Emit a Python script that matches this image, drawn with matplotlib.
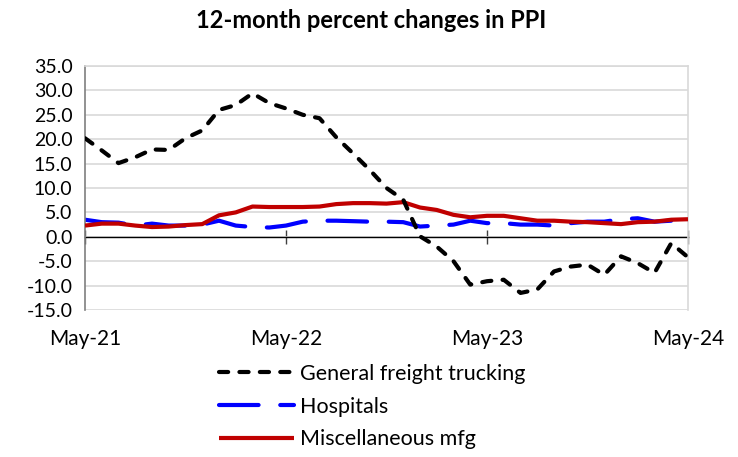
import matplotlib
matplotlib.use("Agg")
import matplotlib.pyplot as plt
import numpy as np

plt.rcParams['font.family'] = ['Lato', 'DejaVu Sans']

months = list(range(37))
tick_positions = [0, 12, 24, 36]
tick_labels = ["May-21", "May-22", "May-23", "May-24"]

freight = [20.2, 17.7, 15.1, 16.3, 17.9, 17.8, 20.2, 21.8, 26.0, 27.0, 29.4, 27.4,
           26.3, 25.0, 24.3, 20.4, 17.1, 13.7, 10.0, 7.6, 0.1, -2.0, -5.0, -9.8,
           -9.1, -8.8, -11.5, -10.8, -7.1, -6.1, -5.7, -7.8, -4.0, -5.4, -7.4, -1.3, -4.2]
hospitals = [3.5, 3.0, 2.9, 2.3, 2.7, 2.3, 2.3, 2.5, 3.3, 2.3, 2.0, 1.9,
             2.3, 3.1, 3.3, 3.3, 3.2, 3.1, 3.1, 3.0, 2.1, 2.3, 2.5, 3.3,
             2.8, 2.8, 2.5, 2.5, 2.3, 2.8, 3.1, 3.1, 3.6, 3.8, 3.1, 3.3, 4.5]
misc_mfg = [2.3, 2.7, 2.7, 2.3, 2.0, 2.1, 2.4, 2.6, 4.4, 5.0, 6.2, 6.1,
            6.1, 6.1, 6.2, 6.7, 6.9, 6.9, 6.8, 7.1, 6.0, 5.5, 4.5, 4.0,
            4.3, 4.3, 3.8, 3.3, 3.3, 3.1, 3.0, 2.8, 2.6, 3.0, 3.1, 3.5, 3.6]
y_ticks = [-15, -10, -5, 0, 5, 10, 15, 20, 25, 30, 35]

fig = plt.figure(figsize=(7.38, 4.57), dpi=100)
ax = fig.add_axes([85/738, 1-310/457, (688-85)/738, (310-66)/457])

lw = 3.0
l1, = ax.plot(months, freight, color='black', lw=lw, dashes=(2.2, 2.7),
              dash_capstyle='round', solid_capstyle='round', zorder=4,
              label='General freight trucking')
l2, = ax.plot(months, hospitals, color='#0000FF', lw=lw, dashes=(9.5, 5.2),
              dash_capstyle='round', zorder=2, label='Hospitals')
l3, = ax.plot(months, misc_mfg, color='#C00000', lw=lw, zorder=3,
              solid_capstyle='butt', label='Miscellaneous mfg')

ax.set_xlim(0, 36)
ax.set_ylim(-15, 35)
ax.set_yticks(y_ticks)
ax.set_yticklabels([f"{v:.1f}" for v in y_ticks], fontsize=14)
ax.yaxis.grid(True, color='#D9D9D9', lw=1.2)
ax.set_axisbelow(True)
ax.tick_params(axis='y', length=0, pad=9)

for s in ['top', 'right']:
    ax.spines[s].set_color('#D9D9D9')
    ax.spines[s].set_linewidth(1.2)
ax.spines['left'].set_color('#7F7F7F')
ax.spines['left'].set_linewidth(1.2)
ax.spines['bottom'].set_position(('data', 0))
ax.spines['bottom'].set_color('black')
ax.spines['bottom'].set_linewidth(1.0)
ax.spines['bottom'].set_zorder(1)
ax.set_xticks(tick_positions)
ax.tick_params(axis='x', direction='inout', length=10, width=1.0,
               color='#404040', labelbottom=False)

sec = ax.secondary_xaxis(0.0)
sec.set_xticks(tick_positions)
sec.set_xticklabels(tick_labels, fontsize=15)
sec.tick_params(length=0, pad=14)
sec.spines['bottom'].set_visible(False)

fig.suptitle('12-month percent changes in PPI', x=371/738, y=1-20/457,
             va='center', fontsize=17, fontweight='bold')

leg = fig.legend(handles=[l1, l2, l3], loc='upper left',
                 bbox_to_anchor=(210/738, 1-355/457), frameon=False,
                 fontsize=15.5, handlelength=3.5, handletextpad=0.3,
                 labelspacing=0.6, borderaxespad=0)

fig.savefig('out.png', dpi=100)
